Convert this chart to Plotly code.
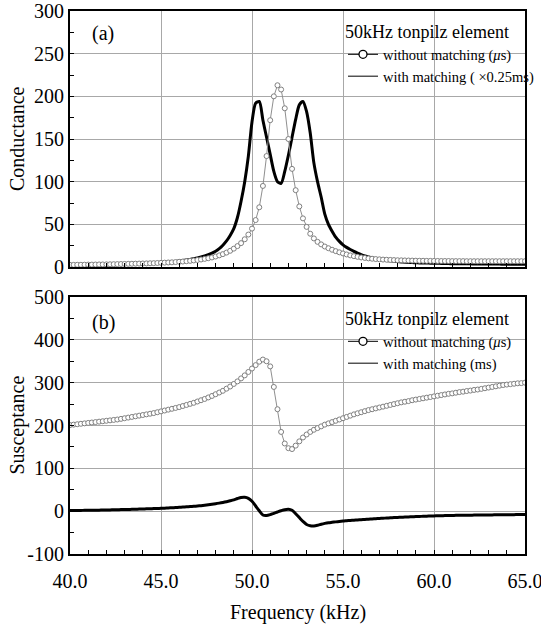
import plotly.graph_objects as go

# ---------------- data ----------------
# frequency sweep, 40.0 .. 65.0 kHz in 0.2 kHz steps (126 samples)
freq_khz = [round(40.0 + 0.2 * i, 1) for i in range(126)]

# (a) Conductance, without matching (uS)
cond_without = [
    2.5, 2.5, 2.6, 2.6, 2.7, 2.8, 2.8, 2.9, 3.0, 3.0,          # 40.0-41.8
    3.1, 3.2, 3.3, 3.4, 3.5, 3.6, 3.7, 3.8, 3.9, 4.0,          # 42.0-43.8
    4.1, 4.2, 4.4, 4.5, 4.7, 4.9, 5.1, 5.3, 5.5, 5.8,          # 44.0-45.8
    6.1, 6.4, 6.8, 7.2, 7.7, 8.2, 8.8, 9.5, 10.3, 11.2,        # 46.0-47.8
    12.3, 13.6, 15.1, 16.9, 19.0, 21.5, 24.5, 28, 32.5, 38,    # 48.0-49.8
    45, 55, 70, 95, 130, 172, 200, 213, 208, 186,              # 50.0-51.8
    150, 115, 90, 71, 57, 47, 39, 33.5, 29.5, 26.5,            # 52.0-53.8
    24, 22, 20.2, 18.6, 17.2, 15.9, 14.7, 13.6, 12.7, 11.9,    # 54.0-55.8
    11.2, 10.6, 10.1, 9.7, 9.3, 9.0, 8.7, 8.5, 8.3, 8.1,       # 56.0-57.8
    7.9, 7.8, 7.7, 7.6, 7.5, 7.4, 7.3, 7.3, 7.2, 7.2,          # 58.0-59.8
    7.1, 7.1, 7.0, 7.0, 7.0, 6.9, 6.9, 6.9, 6.9, 6.8,          # 60.0-61.8
    6.8, 6.8, 6.8, 6.8, 6.8, 6.8, 6.8, 6.8, 6.8, 6.8,          # 62.0-63.8
    6.8, 6.8, 6.8, 6.8, 6.8, 6.8,                              # 64.0-65.0
]

# (a) Conductance, with matching (x0.25 ms)
cond_with = [
    1.5, 1.6, 1.7, 1.8, 1.9, 2.0, 2.1, 2.2, 2.3, 2.4,
    2.5, 2.6, 2.7, 2.8, 2.9, 3.0, 3.2, 3.4, 3.6, 3.8,
    4.0, 4.2, 4.4, 4.6, 4.8, 5.1, 5.4, 5.7, 6.1, 6.5,
    7.0, 7.6, 8.2, 8.9, 9.7, 10.6, 11.7, 13.0, 14.5, 16.3,
    18.5, 21.5, 25.5, 30.5, 37, 45, 58, 77, 100, 130,
    170, 192, 194, 172, 152, 132, 112, 100, 98, 112,
    131, 152, 173, 190, 194, 182, 157, 122, 100, 82,
    62, 50, 42, 35, 30, 26, 23, 20.5, 18.3, 16.3,
    14.5, 13.0, 11.8, 10.7, 9.8, 9.0, 8.3, 7.7, 7.2, 6.7,
    6.3, 6.0, 5.7, 5.4, 5.2, 5.0, 4.8, 4.7, 4.6, 4.5,
    4.4, 4.3, 4.2, 4.1, 4.0, 3.9, 3.9, 3.8, 3.8, 3.7,
    3.7, 3.6, 3.6, 3.5, 3.5, 3.5, 3.4, 3.4, 3.4, 3.3,
    3.3, 3.3, 3.2, 3.2, 3.2, 3.2,
]

# (b) Susceptance, without matching (uS)
susc_without = [
    201, 202, 203, 204, 205, 206, 207, 208, 209, 210,
    211, 212, 213, 214, 215.5, 217, 218.5, 220, 221.5, 223,
    224.5, 226, 227.5, 229, 231, 233, 235, 237, 239, 241,
    243, 245.5, 248, 250.5, 253, 256, 259, 262, 265.5, 269,
    273, 277, 281, 286, 291, 297, 303, 310, 317, 325,
    333, 341, 349, 354, 350, 338, 290, 238, 185, 158,
    147, 145, 153, 163, 172, 179, 185, 190, 194, 198,
    202, 205, 208, 211, 214, 217, 220, 223, 226, 228.5,
    231, 233.5, 236, 238, 240, 242, 244, 246, 248, 250,
    252, 254, 255.5, 257, 259, 260.5, 262, 263.5, 265, 266.5,
    268, 269.5, 271, 272.5, 274, 275, 276.5, 278, 279, 280.5,
    281.5, 283, 284, 285.5, 287, 288.5, 290, 291.5, 293, 294.5,
    295.5, 296.5, 297.5, 298.5, 299, 300,
]

# (b) Susceptance, with matching (ms)
susc_with = [
    1.5, 1.6, 1.7, 1.8, 1.9, 2.0, 2.1, 2.2, 2.4, 2.6,
    2.8, 3.0, 3.2, 3.4, 3.6, 3.8, 4.0, 4.2, 4.5, 4.8,
    5.1, 5.4, 5.7, 6.0, 6.3, 6.7, 7.1, 7.5, 8.0, 8.5,
    9.0, 9.5, 10.1, 10.7, 11.3, 12.0, 12.8, 13.7, 14.8, 16.0,
    17.3, 18.8, 20.4, 22.2, 24.2, 26.5, 29.5, 32, 32.5, 30,
    23, 12, 1, -9, -10, -8, -5, -2, 1, 3.5,
    4.5, 2, -6, -15, -24, -31, -34, -34.5, -33, -30.5,
    -28.5, -27, -26, -25, -24, -23, -22.3, -21.6, -21, -20.4,
    -19.8, -19.2, -18.6, -18, -17.5, -17, -16.5, -16, -15.5, -15,
    -14.6, -14.2, -13.8, -13.4, -13, -12.6, -12.3, -12, -11.7, -11.4,
    -11.1, -10.8, -10.6, -10.4, -10.2, -10, -9.8, -9.6, -9.5, -9.4,
    -9.3, -9.2, -9.1, -9.0, -8.9, -8.8, -8.7, -8.6, -8.5, -8.4,
    -8.3, -8.2, -8.1, -8.0, -8.0, -8.0,
]

x_ticks = [40, 45, 50, 55, 60, 65]
y_ticks_a = [0, 50, 100, 150, 200, 250, 300]
y_ticks_b = [-100, 0, 100, 200, 300, 400, 500]

legend_title = "50kHz tonpilz element"
name_without = "without matching (<i>μ</i>s)"
name_with_a = "with matching ( ×0.25ms)"
name_with_b = "with matching (ms)"
panel_labels = ["(a)", "(b)"]
x_title = "Frequency (kHz)"
y_titles = ["Conductance", "Susceptance"]

# ---------------- styling ----------------
FONT = "Liberation Serif"
CIRC_LINE = "#8f8f8f"
CIRC_EDGE = "#808080"
GRID = "#a8a8a8"

fig = go.Figure()


def add_panel(xa, ya, y_circ, y_solid, solid_name, legend_id):
    fig.add_trace(go.Scatter(
        x=freq_khz, y=y_solid, xaxis=xa, yaxis=ya, mode="lines",
        line=dict(color="black", width=3, shape="spline", smoothing=0.7),
        showlegend=False, hoverinfo="skip"))
    fig.add_trace(go.Scatter(
        x=freq_khz, y=y_circ, xaxis=xa, yaxis=ya, mode="lines+markers",
        line=dict(color=CIRC_LINE, width=1),
        marker=dict(size=5, color="white", line=dict(color=CIRC_EDGE, width=1)),
        showlegend=False, hoverinfo="skip"))
    # legend proxies (no data points)
    fig.add_trace(go.Scatter(
        x=[None], y=[None], xaxis=xa, yaxis=ya, mode="lines+markers",
        name=name_without, legend=legend_id, legendrank=1,
        line=dict(color="black", width=1),
        marker=dict(size=8, color="white", line=dict(color="black", width=1.3))))
    fig.add_trace(go.Scatter(
        x=[None], y=[None], xaxis=xa, yaxis=ya, mode="lines",
        name=solid_name, legend=legend_id, legendrank=2,
        line=dict(color="black", width=1)))


add_panel("x", "y", cond_without, cond_with, name_with_a, "legend")
add_panel("x2", "y2", susc_without, susc_with, name_with_b, "legend2")

# geometry (pixels): plot area x 70..525, top panel y 11..267, bottom 297..554
W, H = 541, 627
L, R, T, B = 70, 16, 11, 73
ph = H - T - B
top_dom = [(554 - 267) / ph, 1.0]
bot_dom = [0.0, (554 - 297) / ph]

TICKFONT = dict(family=FONT, size=20, color="black")
common_x = dict(range=[40, 65], tickmode="array", tickvals=x_ticks,
                showgrid=True, gridcolor=GRID,
                gridwidth=1.2, showline=True, linecolor="black", linewidth=2,
                mirror=True, ticks="inside", ticklen=4, tickcolor="black",
                minor=dict(dtick=1, ticks="inside", ticklen=4, tickcolor="black",
                           showgrid=False),
                zeroline=False, tickfont=TICKFONT, ticklabeloverflow="allow")
common_y = dict(showgrid=True, gridcolor=GRID, gridwidth=1.2, showline=True,
                linecolor="black", linewidth=2, mirror=True, ticks="inside",
                ticklen=4, tickcolor="black", zeroline=False, tickfont=TICKFONT,
                ticklabeloverflow="allow")

LEG_X = (343 - L) / 455
fig.update_layout(
    width=W, height=H,
    margin=dict(l=L, r=R, t=T, b=B, pad=0, autoexpand=False),
    paper_bgcolor="white", plot_bgcolor="white",
    font=dict(family=FONT, color="black"),
    xaxis=dict(**common_x, anchor="y", showticklabels=False),
    xaxis2=dict(**common_x, anchor="y2",
                ticktext=[f"{v:.1f}" for v in x_ticks], ticklabelstandoff=8),
    yaxis=dict(**common_y, domain=top_dom, range=[0, 300], tickmode="array",
               tickvals=y_ticks_a, ticktext=[str(v) for v in y_ticks_a],
               minor=dict(dtick=25, ticks="inside", ticklen=4, tickcolor="black",
                          showgrid=False)),
    yaxis2=dict(**common_y, domain=bot_dom, range=[-100, 500], tickmode="array",
                tickvals=y_ticks_b, ticktext=[str(v) for v in y_ticks_b],
                minor=dict(dtick=50, ticks="inside", ticklen=4, tickcolor="black",
                           showgrid=False)),
    legend=dict(title=dict(text=legend_title, font=dict(family=FONT, size=18)),
                font=dict(family=FONT, size=14.5), x=LEG_X, y=(554 - 15) / ph,
                xanchor="left", yanchor="top", bgcolor="rgba(0,0,0,0)",
                borderwidth=0, itemwidth=30, tracegroupgap=0),
    legend2=dict(title=dict(text=legend_title, font=dict(family=FONT, size=18)),
                 font=dict(family=FONT, size=14.5), x=LEG_X,
                 y=(554 - 302) / ph, xanchor="left", yanchor="top",
                 bgcolor="rgba(0,0,0,0)", borderwidth=0, itemwidth=30,
                 tracegroupgap=0),
)

ann = []
for lbl, ypx in zip(panel_labels, [33, 322]):
    ann.append(dict(text=lbl, xref="paper", yref="paper", x=(103 - L) / 455,
                    y=(554 - ypx) / ph, showarrow=False, xanchor="center",
                    yanchor="middle", font=dict(family=FONT, size=20)))
for t, ypx in zip(y_titles, [139, 425.5]):
    ann.append(dict(text=t, xref="paper", yref="paper", x=(17 - L) / 455,
                    y=(554 - ypx) / ph, showarrow=False, textangle=-90,
                    xanchor="center", yanchor="middle",
                    font=dict(family=FONT, size=20)))
ann.append(dict(text=x_title, xref="paper", yref="paper", x=0.5,
                y=(554 - 612) / ph, showarrow=False, xanchor="center",
                yanchor="middle", font=dict(family=FONT, size=20)))
fig.update_layout(annotations=ann)

fig.write_html(
    "out.html",
    config={"displayModeBar": False},
    post_script="document.body.style.margin='0';document.body.style.overflow='hidden';",
)
